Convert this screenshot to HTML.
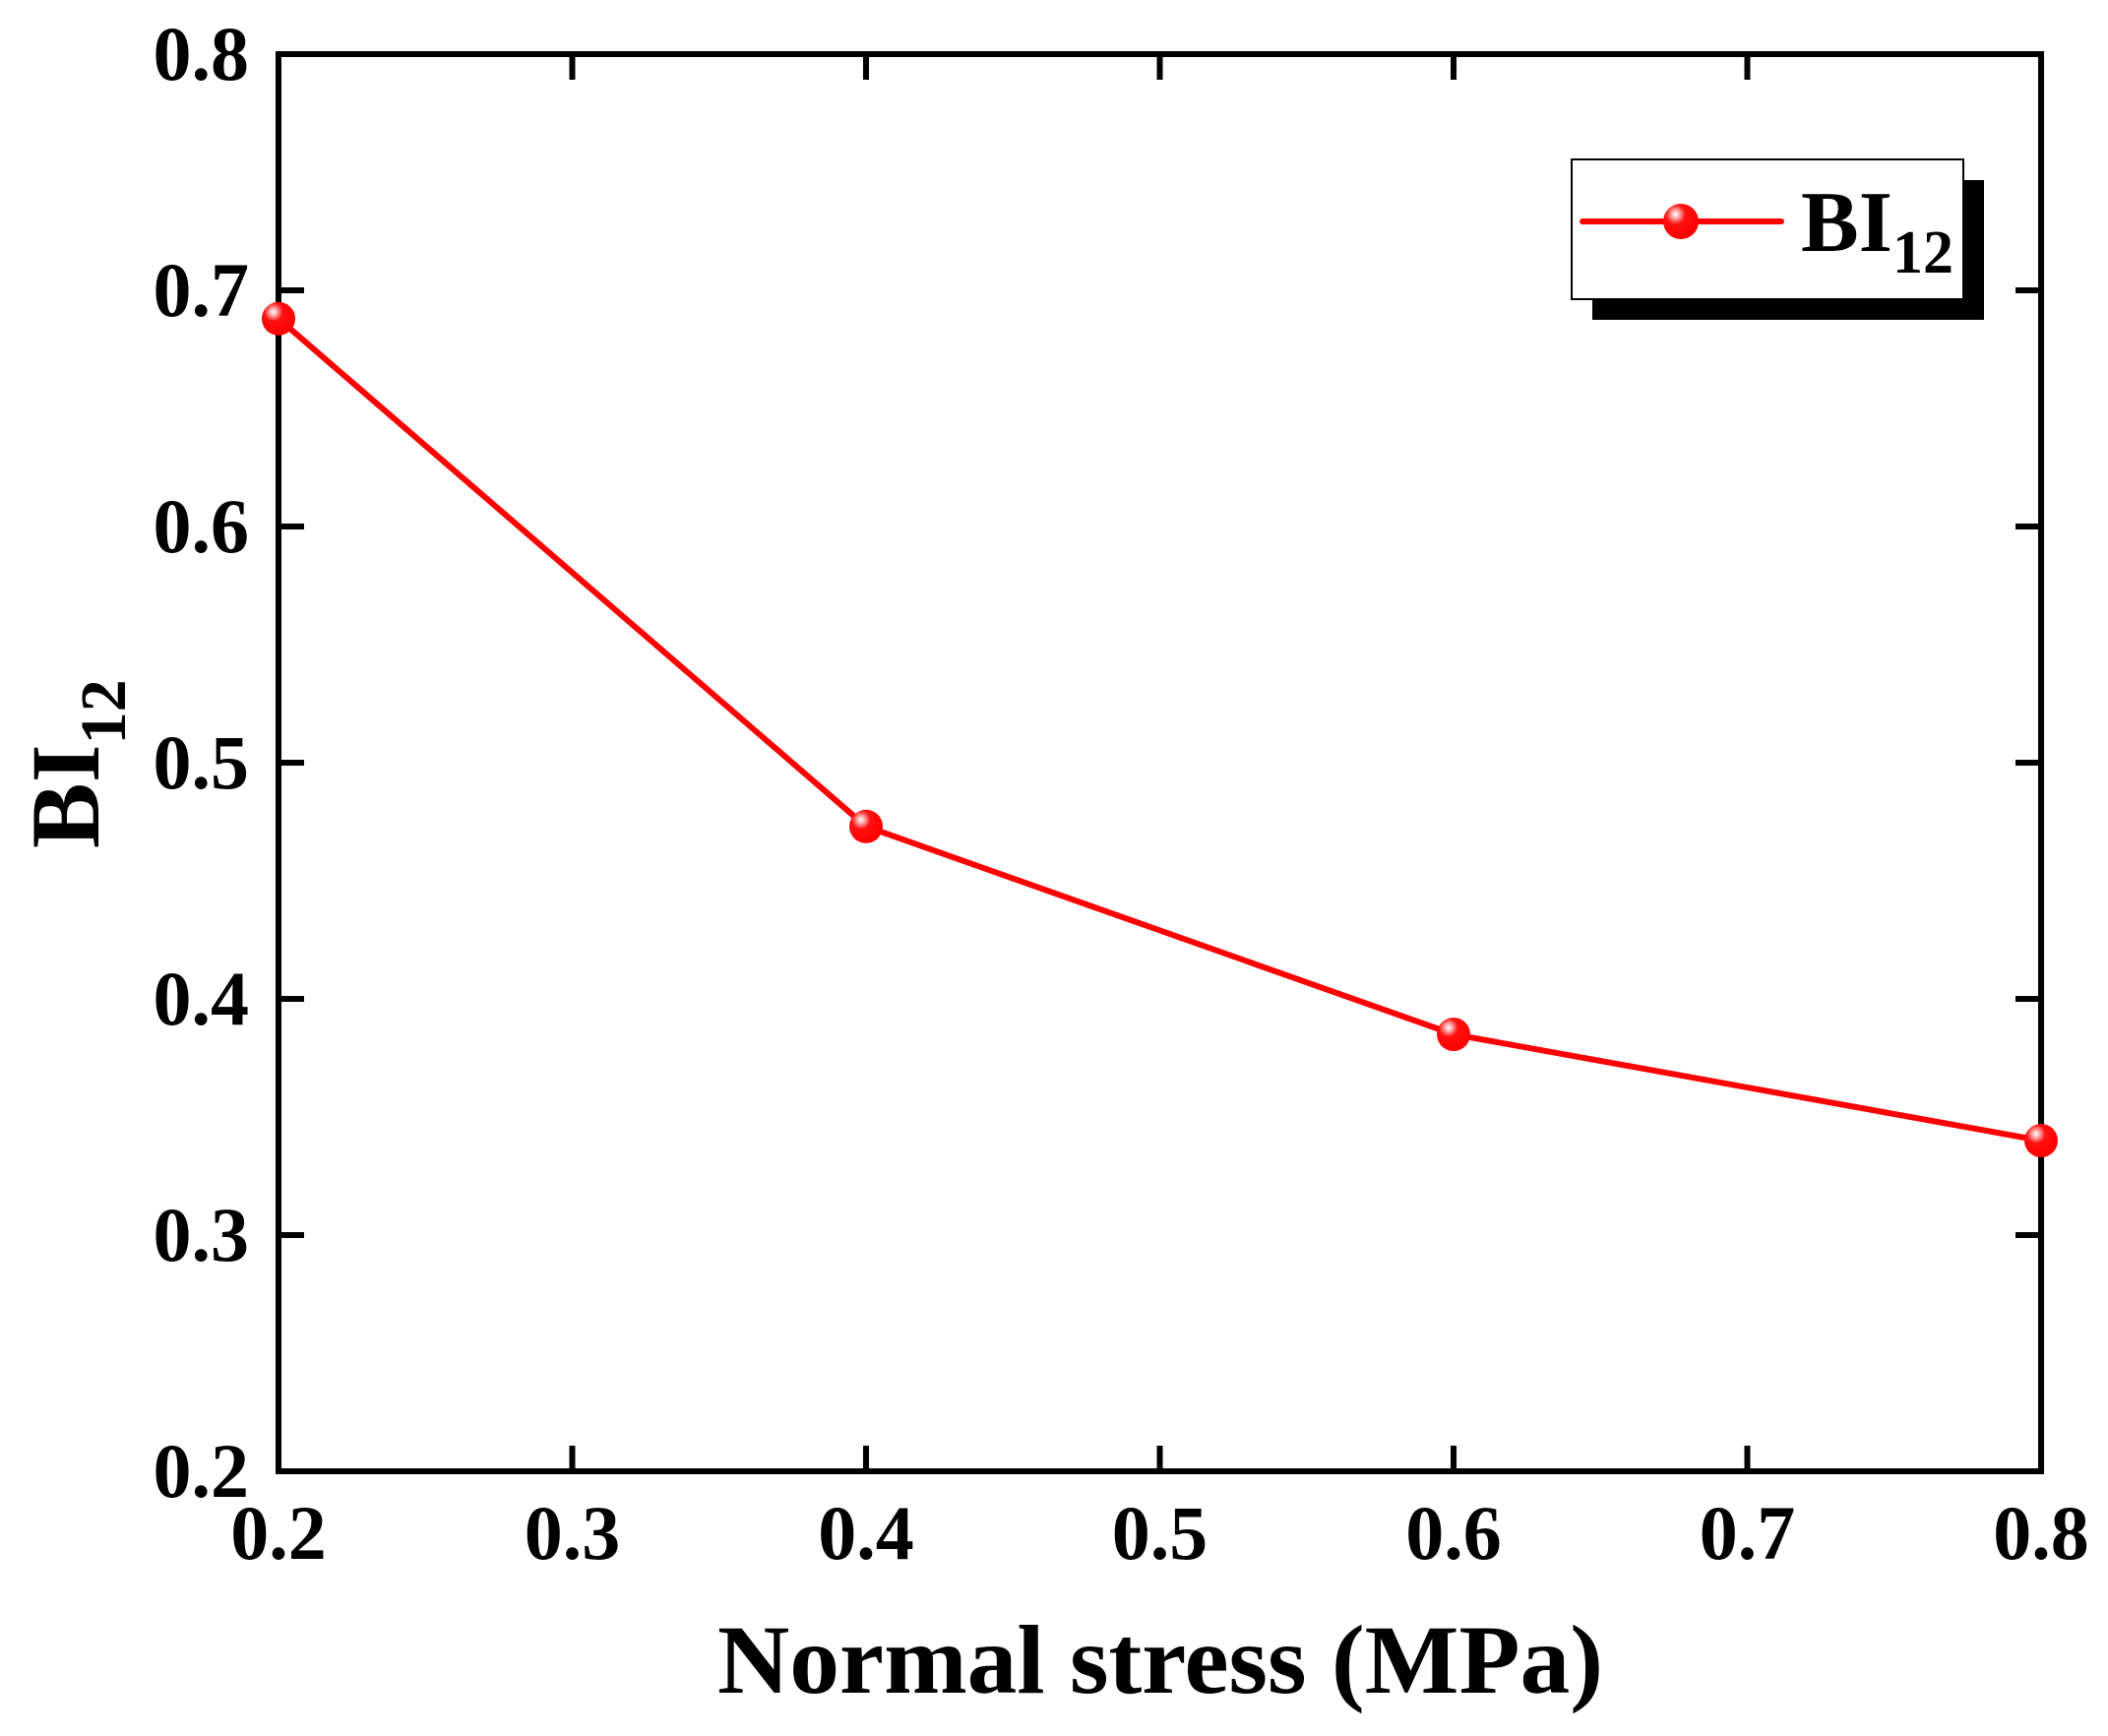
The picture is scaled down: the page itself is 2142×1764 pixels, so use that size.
<!DOCTYPE html>
<html><head><meta charset="utf-8"><style>
html,body{margin:0;padding:0;background:#fff;}
svg{display:block;font-family:"Liberation Serif",serif;font-weight:bold;}
</style></head><body>
<svg id="chart" width="2142" height="1764" viewBox="0 0 2142 1764" xmlns="http://www.w3.org/2000/svg">
<defs>
<radialGradient id="ball" cx="0.35" cy="0.3" r="0.7">
<stop offset="0" stop-color="#fff"/><stop offset="0.15" stop-color="#ffb0b0"/><stop offset="0.4" stop-color="#ff1010"/><stop offset="1" stop-color="#f00"/>
</radialGradient>
</defs>
<g id="axes"></g>
<g id="series"></g>
<g>
<rect x="1618" y="183" width="398" height="142" fill="#000"/>
<rect x="1597" y="162" width="398" height="142" fill="#fff" stroke="#000" stroke-width="2"/>
<line x1="1608" y1="225" x2="1810" y2="225" stroke="#f00" stroke-width="6" stroke-linecap="round"/>
<circle cx="1708" cy="225" r="18" fill="url(#ball)"/>
<text x="1830" y="255" font-size="88">BI<tspan font-size="62" dy="22">12</tspan></text>
</g>
<text x="1179" y="1720" font-size="100" text-anchor="middle" textLength="900" lengthAdjust="spacingAndGlyphs">Normal stress (MPa)</text>
<text transform="translate(100,862) rotate(-90)" font-size="100">BI<tspan font-size="66" dy="27">12</tspan></text>
</svg>
<script>
const xTicks=[0.2,0.3,0.4,0.5,0.6,0.7,0.8];
const yTicks=[0.2,0.3,0.4,0.5,0.6,0.7,0.8];
const xTickLabels=["0.2","0.3","0.4","0.5","0.6","0.7","0.8"];
const yTickLabels=["0.2","0.3","0.4","0.5","0.6","0.7","0.8"];
const stressX=[0.2,0.4,0.6,0.8];
const bi12Values=[0.688,0.473,0.385,0.340];
const NS="http://www.w3.org/2000/svg";
const L=283,R=2074,T=55,B=1495;
function sx(v){return L+(v-0.2)/(0.6)*(R-L);}
function sy(v){return B-(v-0.2)/(0.6)*(B-T);}
function mk(tag,attrs,parent){const e=document.createElementNS(NS,tag);for(const k in attrs)e.setAttribute(k,attrs[k]);parent.appendChild(e);return e;}
const axes=document.getElementById('axes');
const frame=mk('rect',{x:L,y:T,width:R-L,height:B-T,fill:'none',stroke:'#000','stroke-width':6},axes);


xTicks.forEach((v,i)=>{
  const x=sx(v);
  const t1=mk('line',{x1:x,y1:B,x2:x,y2:B-26,stroke:'#000','stroke-width':6},axes);
  
  
  const t2=mk('line',{x1:x,y1:T,x2:x,y2:T+26,stroke:'#000','stroke-width':6},axes);
  
  
  const lb=mk('text',{x:x,y:1584,'font-size':78,'text-anchor':'middle'},axes);
  lb.textContent=xTickLabels[i];
  
  
});
yTicks.forEach((v,i)=>{
  const y=sy(v);
  const t1=mk('line',{x1:L,y1:y,x2:L+26,y2:y,stroke:'#000','stroke-width':6},axes);
  
  
  const t2=mk('line',{x1:R,y1:y,x2:R-26,y2:y,stroke:'#000','stroke-width':6},axes);
  
  
  const lb=mk('text',{x:253,y:y+26,'font-size':78,'text-anchor':'end'},axes);
  lb.textContent=yTickLabels[i];
  
  
});
const ser=document.getElementById('series');
const pts=stressX.map((v,i)=>sx(v)+','+sy(bi12Values[i])).join(' ');
const pl=mk('polyline',{points:pts,fill:'none',stroke:'#f00','stroke-width':6,'stroke-linejoin':'round'},ser);


stressX.forEach((v,i)=>{
  const c=mk('circle',{cx:sx(v),cy:sy(bi12Values[i]),r:17,fill:'url(#ball)'},ser);
  
  
});
</script>
</body></html>
